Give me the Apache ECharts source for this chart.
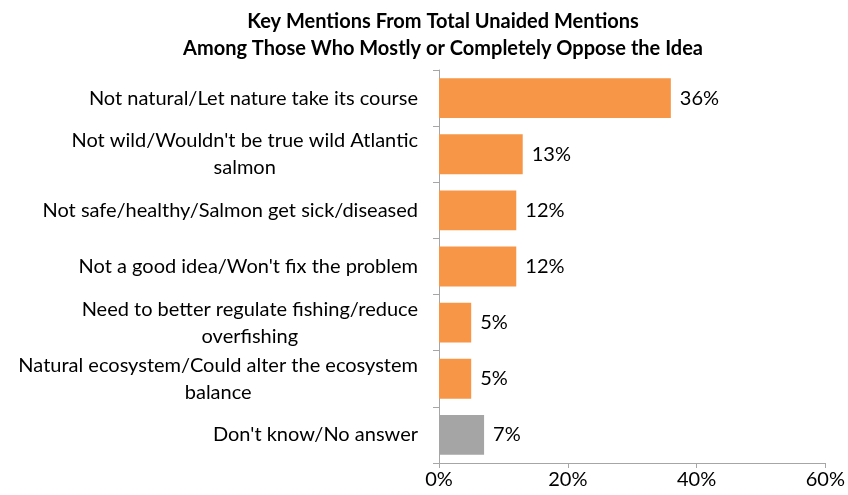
<!DOCTYPE html>
<html>
<head>
<meta charset="utf-8">
<script src="https://cdn.jsdelivr.net/npm/echarts@6/dist/echarts.min.js"></script>
<style>
  html, body { margin: 0; padding: 0; background: #fff; }
  #chart { width: 848px; height: 495px; }
</style>
</head>
<body>
<div id="chart"></div>
<script>
// Reasons given by respondents who oppose the idea (share of mentions, %)
const categories = [
  "Not natural/Let nature take its course",
  "Not wild/Wouldn't be true wild Atlantic\nsalmon",
  "Not safe/healthy/Salmon get sick/diseased",
  "Not a good idea/Won't fix the problem",
  "Need to better regulate fishing/reduce\noverfishing",
  "Natural ecosystem/Could alter the ecosystem\nbalance",
  "Don't know/No answer"
];
const values = [36, 13, 12, 12, 5, 5, 7];
const barColors = ["#F79646", "#F79646", "#F79646", "#F79646", "#F79646", "#F79646", "#A5A5A5"];
const xTicks = [0, 20, 40, 60];

const FONT = "Lato";
const FS = 20;

const chart = echarts.init(document.getElementById("chart"), null, { renderer: "canvas" });

chart.setOption({
  animation: false,
  backgroundColor: "#ffffff",
  title: {
    text: "Key Mentions From Total Unaided Mentions\nAmong Those Who Mostly or Completely Oppose the Idea",
    left: 438,
    textAlign: "center",
    top: 3,
    textStyle: {
      fontFamily: FONT,
      fontWeight: "bold",
      fontSize: 20,
      lineHeight: 27,
      color: "#000000"
    }
  },
  grid: {
    left: 439,
    right: 20,
    top: 70,
    bottom: 32,
    containLabel: false
  },
  xAxis: {
    type: "value",
    min: xTicks[0],
    max: xTicks[xTicks.length - 1],
    interval: 20,
    axisLine: { show: true, lineStyle: { color: "#A6A6A6", width: 1 } },
    axisTick: { show: true, length: 5, lineStyle: { color: "#A6A6A6" } },
    splitLine: { show: false },
    axisLabel: {
      fontFamily: FONT,
      fontSize: FS,
      color: "#000000",
      margin: 7,
      formatter: v => v + "%"
    }
  },
  yAxis: {
    type: "category",
    data: categories,
    inverse: true,
    axisLine: { show: true, lineStyle: { color: "#A6A6A6", width: 1 } },
    axisTick: { show: true, length: 6, lineStyle: { color: "#A6A6A6" } },
    axisLabel: {
      margin: 21,
      color: "#000000",
      fontFamily: FONT,
      fontSize: FS,
      lineHeight: 27,
      formatter: v => v.split("\n").map(l => "{c|" + l + "}").join("\n"),
      rich: {
        c: {
          align: "center",
          fontFamily: FONT,
          fontSize: FS,
          lineHeight: 27,
          color: "#000000"
        }
      }
    }
  },
  series: [{
    type: "bar",
    data: values.map((v, i) => ({ value: v, itemStyle: { color: barColors[i] } })),
    barCategoryGap: "29%",
    label: {
      show: true,
      position: "right",
      distance: 9,
      fontFamily: FONT,
      fontSize: FS,
      color: "#000000",
      formatter: p => p.value + "%"
    }
  }]
});
</script>
</body>
</html>
